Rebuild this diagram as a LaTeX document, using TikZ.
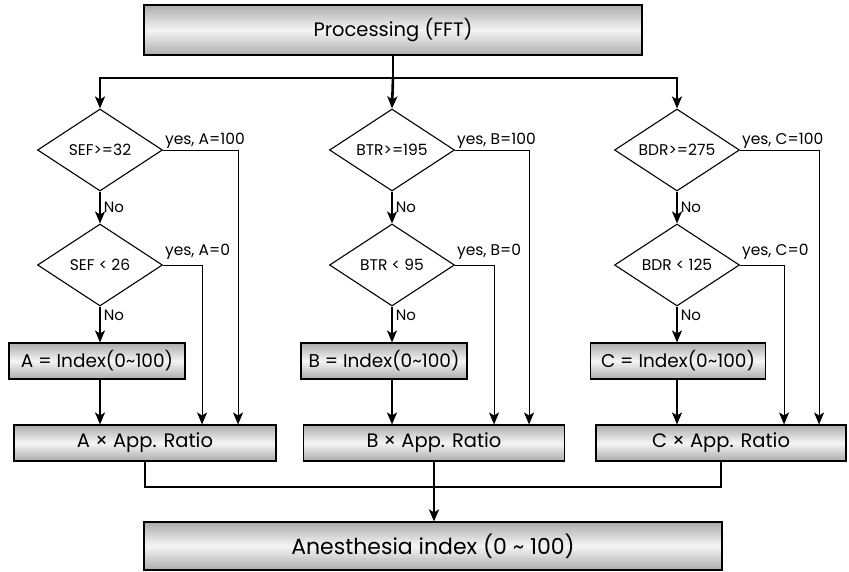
\documentclass[tikz,border=0pt]{standalone}
\usepackage{fontspec}
\setmainfont{Poppins}
\usetikzlibrary{arrows.meta,calc,positioning,shapes.geometric}
\tikzset{
 chart/.style={line join=miter,text=black},
 block/.style={rectangle,draw=black,line width=1.1pt,top color=gray!65,bottom color=gray!65,middle color=gray!8,inner sep=0pt},
 test/.style={diamond,aspect=1.5,draw=black,line width=1.1pt,fill=white,inner sep=0pt,
   minimum width=125pt,minimum height=82pt,font=\fontsize{15.5}{17}\selectfont},
 trunk/.style={draw=black,line width=2.6pt},
 stem/.style={draw=black,line width=1.6pt},
 collect/.style={draw=black,line width=2.2pt},
 yesline/.style={draw=black,line width=1pt},
 tip/.style={-{Stealth[length=12pt,width=10pt,inset=3pt]}},
 yeslabel/.style={anchor=south west,inner sep=1.5pt,font=\fontsize{15.5}{17}\selectfont},
 nolabel/.style={anchor=west,inner sep=3pt,font=\fontsize{15}{17}\selectfont},
 idxbox/.style={block,minimum height=36pt,font=\fontsize{18.5}{21}\selectfont},
 appbox/.style={block,minimum height=36pt,font=\fontsize{19.5}{22}\selectfont}
}
\begin{document}
\begin{tikzpicture}[chart,x=1pt,y=-1pt]
 \useasboundingbox (0,0) rectangle (849,571);
 % source and sink
 \node[block,minimum width=498pt,minimum height=50pt,font=\fontsize{19.5}{22}\selectfont] (proc) at (393,30) {Processing (FFT)};
 \node[block,minimum width=578pt,minimum height=48pt,font=\fontsize{22}{25}\selectfont] (anest) at (433,546) {Anesthesia index (0 \textasciitilde{} 100)};
 % tests
 \node[test] (sefHi) at (100,150) {SEF>=32};
 \node[test] (sefLo) at (100,265) {SEF < 26};
 \node[test] (btrHi) at (392,150) {BTR>=195};
 \node[test] (btrLo) at (392,265) {BTR < 95};
 \node[test] (bdrHi) at (677,150) {BDR>=275};
 \node[test] (bdrLo) at (677,265) {BDR < 125};
 % index and ratio boxes
 \node[idxbox,minimum width=176pt] (aIdx) at (97,361) {A = Index(0\textasciitilde100)};
 \node[idxbox,minimum width=166pt] (bIdx) at (384,361) {B = Index(0\textasciitilde100)};
 \node[idxbox,minimum width=175pt] (cIdx) at (678,361) {C = Index(0\textasciitilde100)};
 \node[appbox,minimum width=262pt] (aApp) at (145,443) {A × App. Ratio};
 \node[appbox,minimum width=261pt] (bApp) at (434,443) {B × App. Ratio};
 \node[appbox,minimum width=250pt] (cApp) at (721,443) {C × App. Ratio};
 % splitter
 \coordinate (split) at (393,78);
 \draw[trunk] (proc.south) -- (split);
 \draw[trunk,tip] (split) -| (sefHi.north);
 \draw[trunk,tip] (split) -| (bdrHi.north);
 \draw[trunk,tip] (split) -- (btrHi.north);
 % no branches
 \draw[stem,tip] (sefHi.south) -- node[nolabel]{No} (sefLo.north);
 \draw[stem,tip] (btrHi.south) -- node[nolabel]{No} (btrLo.north);
 \draw[stem,tip] (bdrHi.south) -- node[nolabel]{No} (bdrLo.north);
 \draw[stem,tip] (sefLo.south) -- node[nolabel,pos=.25]{No} (sefLo.south |- aIdx.north);
 \draw[stem,tip] (btrLo.south) -- node[nolabel,pos=.25]{No} (btrLo.south |- bIdx.north);
 \draw[stem,tip] (bdrLo.south) -- node[nolabel,pos=.25]{No} (bdrLo.south |- cIdx.north);
 \draw[stem,tip] (sefLo.south |- aIdx.south) -- (sefLo.south |- aApp.north);
 \draw[stem,tip] (btrLo.south |- bIdx.south) -- (btrLo.south |- bApp.north);
 \draw[stem,tip] (bdrLo.south |- cIdx.south) -- (bdrLo.south |- cApp.north);
 % yes branches
 \draw[yesline,tip] (sefHi.east) node[yeslabel]{yes, A=100} -| ([xshift=75pt]sefHi.east |- aApp.north);
 \draw[yesline,tip] (sefLo.east) node[yeslabel,yshift=4pt]{yes, A=0} -| ([xshift=39pt]sefLo.east |- aApp.north);
 \draw[yesline,tip] (btrHi.east) node[yeslabel]{yes, B=100} -| ([xshift=74pt]btrHi.east |- bApp.north);
 \draw[yesline,tip] (btrLo.east) node[yeslabel,yshift=4pt]{yes, B=0} -| ([xshift=39pt]btrLo.east |- bApp.north);
 \draw[yesline,tip] (bdrHi.east) node[yeslabel]{yes, C=100} -| ([xshift=79pt]bdrHi.east |- cApp.north);
 \draw[yesline,tip] (bdrLo.east) node[yeslabel,yshift=4pt]{yes, C=0} -| ([xshift=44pt]bdrLo.east |- cApp.north);
 % collector
 \coordinate (join) at (434,487);
 \draw[collect] (aApp.south) |- (join) -| (cApp.south);
 \draw[collect,tip] (bApp.south) -- (bApp.south |- anest.north);
\end{tikzpicture}
\end{document}
